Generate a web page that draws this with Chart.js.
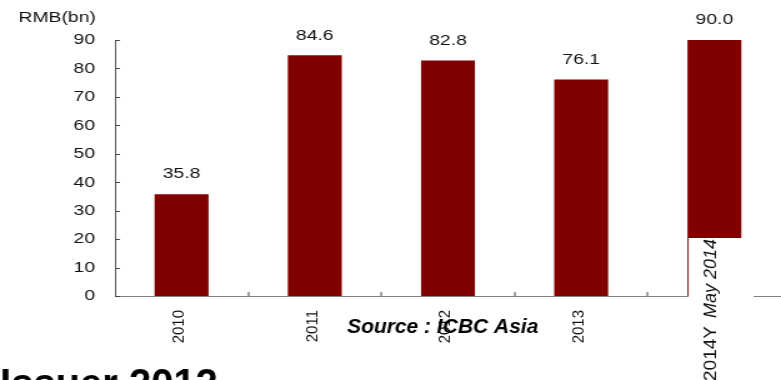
<!DOCTYPE html>
<html><head><meta charset="utf-8">
<script src="https://cdn.jsdelivr.net/npm/chart.js@4"></script>
<style>html,body{margin:0;padding:0;background:#fff;overflow:hidden}</style>
</head><body>
<canvas id="c" width="625" height="380" style="display:block;width:781px;height:380px"></canvas>
<script>
const categories = ['2010', '2011', '2012', '2013', '2014Y May 2014'];
const values = [35.8, 84.6, 82.8, 76.1, 90.0];
const yTickValues = [0, 10, 20, 30, 40, 50, 60, 70, 80, 90];
const unitLabel = 'RMB(bn)';
const sourceLabel = 'Source : ICBC Asia';
const headline = 'Issuer 2012';

const S = 781 / 625; // horizontal stretch of the original picture
const FONT = '"Liberation Sans", Arial, sans-serif';

const deco = {
  id: 'deco',
  afterDraw(chart) {
    const ctx = chart.ctx, xs = chart.scales.x, ys = chart.scales.y, ca = chart.chartArea;
    ctx.save();
    // inward tick marks
    ctx.strokeStyle = '#444'; ctx.lineWidth = 1;
    ys.ticks.forEach((t, i) => {
      const y = Math.round(ys.getPixelForTick(i)) + 0.5;
      ctx.beginPath(); ctx.moveTo(ca.left, y); ctx.lineTo(ca.left + 4, y); ctx.stroke();
    });
    for (let i = 1; i < categories.length; i++) {
      const x = Math.round((xs.getPixelForTick(i - 1) + xs.getPixelForTick(i)) / 2);
      ctx.beginPath(); ctx.moveTo(x, ca.bottom); ctx.lineTo(x, ca.bottom - 4); ctx.stroke();
    }
    // value labels
    ctx.fillStyle = '#111';
    ctx.font = '15.5px ' + FONT; ctx.textAlign = 'center'; ctx.textBaseline = 'middle';
    const bars = chart.getDatasetMeta(0).data;
    bars.forEach((bar, i) => ctx.fillText(values[i].toFixed(1), bar.x, bar.y - 20));
    // unit label
    ctx.textAlign = 'left';
    ctx.fillText(unitLabel, 14.7, 17.5);

    // unstretched texts
    ctx.save();
    ctx.scale(1 / S, 1);
    // category labels (rotated)
    ctx.fillStyle = '#111';
    ctx.font = '15px ' + FONT;
    ctx.textAlign = 'right'; ctx.textBaseline = 'middle';
    for (let i = 0; i < categories.length - 1; i++) {
      ctx.save();
      ctx.translate(xs.getPixelForTick(i) * S - 2, ca.bottom + 14);
      ctx.rotate(-Math.PI / 2);
      ctx.fillText(categories[i], 0, 0);
      ctx.restore();
    }
    const last = bars[bars.length - 1];
    const boxLeft = (last.x - last.width / 2) * S + 1.2;
    const boxTop = ca.bottom - 58;
    ctx.fillStyle = '#fff';
    ctx.fillRect(boxLeft, boxTop, 65, chart.height - boxTop);
    const lastLabel = categories[categories.length - 1];
    const sp = lastLabel.indexOf(' ');
    const partA = lastLabel.slice(0, sp), partB = lastLabel.slice(sp + 1);
    ctx.save();
    ctx.translate(last.x * S - 3, boxTop + 1);
    ctx.rotate(-Math.PI / 2);
    ctx.fillStyle = '#111';
    ctx.textAlign = 'right'; ctx.textBaseline = 'middle';
    ctx.font = 'italic 18px ' + FONT;
    ctx.fillText(partB, 0, 0);
    const w1 = ctx.measureText(partB).width;
    ctx.font = '19px ' + FONT;
    ctx.fillText(partA, -(w1 + 8), 0);
    ctx.restore();

    ctx.fillStyle = '#000';
    ctx.textAlign = 'left'; ctx.textBaseline = 'alphabetic';
    ctx.font = 'bold italic 21px ' + FONT;
    ctx.fillText(sourceLabel, 347, 333);
    ctx.font = 'bold 40px ' + FONT;
    ctx.fillText(headline, 0, 397);
    ctx.restore();
    ctx.restore();
  }
};

new Chart(document.getElementById('c'), {
  type: 'bar',
  data: {
    labels: categories,
    datasets: [{
      data: values,
      backgroundColor: '#800000',
      borderWidth: 0,
      barPercentage: 0.405,
      categoryPercentage: 1
    }]
  },
  options: {
    responsive: false,
    animation: false,
    devicePixelRatio: 1,
    layout: { padding: { top: 40, left: 0, right: 0, bottom: 0 } },
    plugins: { legend: { display: false }, tooltip: { enabled: false } },
    scales: {
      x: {
        grid: { display: false, drawTicks: false },
        border: { display: true, color: '#808080', width: 1 },
        ticks: { display: false },
        afterFit(s) { s.height = 84; }
      },
      y: {
        min: 0, max: 90,
        grid: { display: false, drawTicks: false },
        border: { display: true, color: '#555', width: 1 },
        ticks: { padding: 16, color: '#111', font: { family: FONT, size: 15.5 } },
        afterBuildTicks(s) { s.ticks = yTickValues.map(v => ({ value: v })); },
        afterFit(s) { s.width = 92; }
      }
    }
  },
  plugins: [deco]
});
</script>
</body></html>
